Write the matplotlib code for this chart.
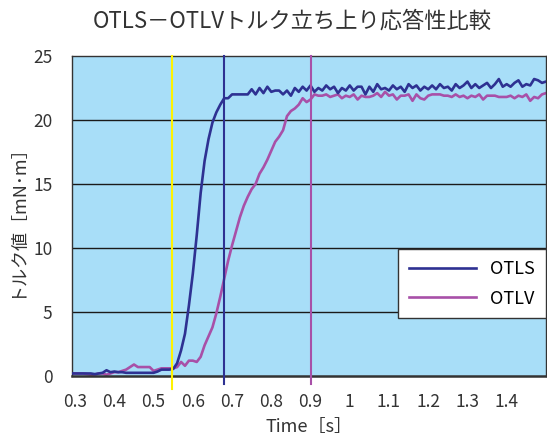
import numpy as np
import matplotlib
matplotlib.use("Agg")
import matplotlib.pyplot as plt

plt.rcParams['font.family'] = ['Noto Sans CJK JP', 'DejaVu Sans']

title = "OTLS－OTLVトルク立ち上り応答性比較"
xlabel = "Time［s］"
ylabel = "トルク値［mN･m］"

t_start = 0.29
t_step = 0.01

otls = [0.2, 0.2, 0.2, 0.2, 0.2, 0.2, 0.15, 0.2, 0.25, 0.45, 0.3, 0.35, 0.3, 0.3, 0.25,
        0.25, 0.25, 0.25, 0.25, 0.25, 0.25, 0.25, 0.35, 0.5, 0.5, 0.5, 0.55,
        1.0, 2.0, 3.3, 5.5, 8.0, 11.0, 14.3, 16.8, 18.5, 19.8, 20.6, 21.2, 21.7, 21.7,
        22.0, 22.0, 22.0, 22.0, 22.0,
        22.4, 22.0, 22.5, 22.1, 22.6, 22.2, 22.3, 22.3, 22.0, 22.3, 21.9, 22.5, 22.2, 22.6,
        22.3, 22.7, 22.2, 22.5, 22.3, 22.7, 22.4, 22.6, 22.1, 22.5, 22.3, 22.7, 22.3, 22.6,
        22.6, 22.0, 22.6, 22.2, 22.8, 22.4, 22.5, 22.3, 22.7, 22.4, 22.6, 22.2, 22.8, 22.5,
        22.7, 22.3, 22.6, 22.4, 22.7, 22.4, 22.8, 22.5, 22.6, 22.3, 22.8, 22.5, 22.7, 23.0,
        22.5, 22.8, 22.5, 22.7, 22.9, 22.5, 22.8, 23.2, 22.6, 22.8, 22.6, 22.9, 23.1, 22.6,
        22.8, 22.7, 23.2, 23.1, 22.9, 23.0]

otlv = [0.2, 0.2, 0.2, 0.2, 0.15, 0.1, 0.1, 0.2, 0.2, 0.1, 0.2, 0.3, 0.3, 0.4, 0.5,
        0.7, 0.9, 0.7, 0.7, 0.7, 0.7, 0.4, 0.5, 0.6, 0.6, 0.6, 0.6, 0.7, 1.1, 0.8,
        1.2, 1.2, 1.1, 1.5, 2.4, 3.1, 3.8, 4.9, 6.2, 7.6, 9.0, 10.2, 11.3, 12.4, 13.3,
        14.0, 14.6, 15.0, 15.8, 16.3, 16.9, 17.6, 18.3, 18.7, 19.2, 20.3, 20.7, 20.9,
        21.2, 21.7, 21.4, 21.6, 22.0, 21.9,
        21.9, 22.0, 21.8, 21.9, 22.0, 21.7, 21.9, 21.8, 22.0, 21.6, 21.9, 21.8, 21.8,
        21.9, 22.1, 21.8, 22.2, 21.9, 22.0, 21.6, 21.9, 21.9, 22.0, 21.5, 22.0, 21.7,
        21.6, 21.9, 22.0, 22.0, 22.0, 21.9, 21.9, 21.8, 22.0, 21.8, 21.9, 21.7, 21.9,
        21.8, 22.0, 21.6, 21.9, 21.9, 21.9, 21.8, 21.8, 21.8, 21.9, 21.7, 21.9, 21.8,
        22.0, 21.5, 21.8, 21.7, 22.0, 22.1]

markers_t = [0.547, 0.68, 0.90]
markers_c = ['#FFF200', '#2E3192', '#A850A8']

xticks = [0.3, 0.4, 0.5, 0.6, 0.7, 0.8, 0.9, 1.0, 1.1, 1.2, 1.3, 1.4]
xticklabels = ['0.3', '0.4', '0.5', '0.6', '0.7', '0.8', '0.9', '1', '1.1', '1.2', '1.3', '1.4']
yticks = [0, 5, 10, 15, 20, 25]

t_otls = t_start + t_step * np.arange(len(otls))
t_otlv = t_start + t_step * np.arange(len(otlv))

fig = plt.figure(figsize=(5.47, 4.43), dpi=100)
ax = fig.add_axes([0.1316, 0.1512, 0.8664, 0.7224])
ax.set_facecolor('#A8DEF8')

for y in yticks[1:-1]:
    ax.axhline(y, color='#1a1a1a', lw=1.0, zorder=1)

ax.plot(t_otls, otls, color='#2E3192', lw=1.9, label='OTLS', zorder=3)
ax.plot(t_otlv, otlv, color='#A850A8', lw=1.9, label='OTLV', zorder=2)

# marker lines poke out below the plot area
lows = [-1.0, -0.6, -0.6]
for xm, c, lo in zip(markers_t, markers_c, lows):
    ax.plot([xm, xm], [lo, 25], color=c, lw=1.5, clip_on=False, zorder=4)

ax.set_xlim(0.292, 1.5)
ax.set_ylim(0, 25)
ax.set_xticks(xticks)
ax.set_xticklabels(xticklabels)
ax.set_xticks([0.7, 0.9, 1.1, 1.3], minor=True)
ax.set_yticks(yticks)
ax.tick_params(axis='both', which='major', length=0, labelsize=12.5, colors='#333333')
ax.tick_params(axis='x', which='major', pad=12)
ax.tick_params(axis='y', which='major', pad=14)
ax.tick_params(axis='x', which='minor', direction='in', length=4, color='#222222')

for s in ax.spines.values():
    s.set_color('#333333')
    s.set_linewidth(1.0)
ax.spines['bottom'].set_linewidth(1.8)

ax.set_xlabel(xlabel, fontsize=13, color='#333333', labelpad=5)
ax.set_ylabel(ylabel, fontsize=13, color='#333333', labelpad=6)
fig.suptitle(title, fontsize=16, x=0.535, y=0.978, color='#333333')

leg = ax.legend(loc='lower right', bbox_to_anchor=(1.0, 0.18), fontsize=13,
                fancybox=False, framealpha=1, edgecolor='#333333',
                handlelength=3.7, borderpad=0.6, labelspacing=0.65, borderaxespad=0)
leg.get_frame().set_linewidth(1.0)

fig.savefig('out.png', dpi=100)
